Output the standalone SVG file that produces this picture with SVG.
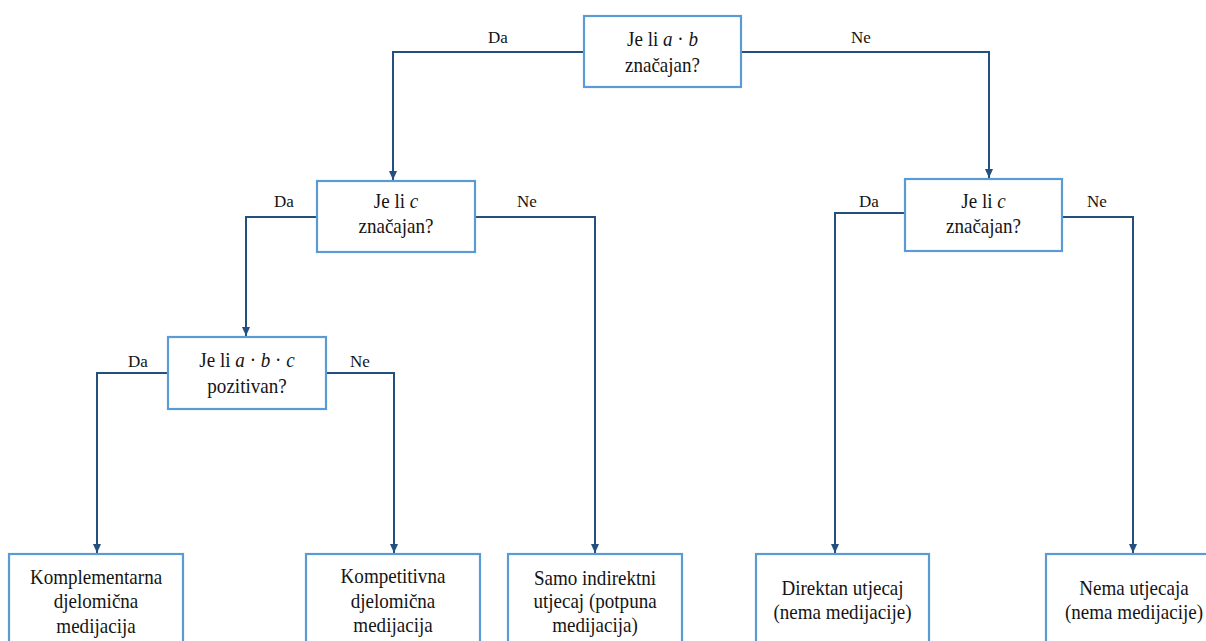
<svg xmlns="http://www.w3.org/2000/svg" width="1206" height="641" viewBox="0 0 1206 641">
  <style>
    .box { fill: #ffffff; stroke: #5b9bd5; stroke-width: 2.2; }
    .wire { fill: none; stroke: #23507f; stroke-width: 2; }
    text { font-family: 'Liberation Serif', 'DejaVu Serif', serif; fill: #141414; text-anchor: middle; }
    .t { font-size: 20.5px; }
    .lbl { font-size: 17px; }
    .i { font-style: italic; }
  </style>
  <defs>
    <marker id="arr" markerWidth="10" markerHeight="10" refX="9" refY="5" orient="auto" markerUnits="userSpaceOnUse">
      <path d="M0,1 L9,5 L0,9 Z" fill="#23507f"/>
    </marker>
  </defs>

  <!-- connectors and their yes/no labels -->
  <g id="connectors">
    <path class="wire" d="M584,52 H393 V180" marker-end="url(#arr)"/>
    <path class="wire" d="M741,52 H989 V178" marker-end="url(#arr)"/>
    <path class="wire" d="M317,217 H246 V336" marker-end="url(#arr)"/>
    <path class="wire" d="M475,217 H595 V553" marker-end="url(#arr)"/>
    <path class="wire" d="M168,373 H97 V553" marker-end="url(#arr)"/>
    <path class="wire" d="M326,373 H394 V553" marker-end="url(#arr)"/>
    <path class="wire" d="M905,213 H835 V553" marker-end="url(#arr)"/>
    <path class="wire" d="M1062,217 H1133 V553" marker-end="url(#arr)"/>
    <text class="lbl" x="498" y="43">Da</text>
    <text class="lbl" x="861" y="43">Ne</text>
    <text class="lbl" x="284" y="207">Da</text>
    <text class="lbl" x="527" y="207">Ne</text>
    <text class="lbl" x="138" y="367">Da</text>
    <text class="lbl" x="360" y="367">Ne</text>
    <text class="lbl" x="869" y="207">Da</text>
    <text class="lbl" x="1097" y="207">Ne</text>
  </g>

  <!-- node labels are set in a slightly narrowed serif: each text block is centred at x=0 of its group -->
  <g id="q-ab">
    <rect class="box" x="584" y="16" width="157" height="71"/>
    <g transform="translate(662.5,0) scale(0.93,1)">
      <text class="t" x="0" y="46">Je li <tspan class="i">a</tspan> · <tspan class="i">b</tspan></text>
      <text class="t" x="0" y="72">značajan?</text>
    </g>
  </g>

  <g id="q-c-left">
    <rect class="box" x="317" y="181" width="158" height="71"/>
    <g transform="translate(396,0) scale(0.93,1)">
      <text class="t" x="0" y="208">Je li <tspan class="i">c</tspan></text>
      <text class="t" x="0" y="233.5">značajan?</text>
    </g>
  </g>

  <g id="q-c-right">
    <rect class="box" x="905" y="179" width="157" height="72"/>
    <g transform="translate(983.5,0) scale(0.93,1)">
      <text class="t" x="0" y="208">Je li <tspan class="i">c</tspan></text>
      <text class="t" x="0" y="233.5">značajan?</text>
    </g>
  </g>

  <g id="q-abc">
    <rect class="box" x="168" y="337" width="158" height="72"/>
    <g transform="translate(247,0) scale(0.93,1)">
      <text class="t" x="0" y="367.5">Je li <tspan class="i">a</tspan> · <tspan class="i">b</tspan> · <tspan class="i">c</tspan></text>
      <text class="t" x="0" y="393.5">pozitivan?</text>
    </g>
  </g>

  <g id="r-komplementarna">
    <rect class="box" x="9" y="554" width="174" height="100"/>
    <g transform="translate(96,0) scale(0.93,1)">
      <text class="t" x="0" y="584">Komplementarna</text>
      <text class="t" x="0" y="608.5">djelomična</text>
      <text class="t" x="0" y="633">medijacija</text>
    </g>
  </g>

  <g id="r-kompetitivna">
    <rect class="box" x="306" y="554" width="174" height="100"/>
    <g transform="translate(393,0) scale(0.93,1)">
      <text class="t" x="0" y="583.5">Kompetitivna</text>
      <text class="t" x="0" y="608">djelomična</text>
      <text class="t" x="0" y="632.5">medijacija</text>
    </g>
  </g>

  <g id="r-indirektni">
    <rect class="box" x="508" y="554" width="174" height="100"/>
    <g transform="translate(595,0) scale(0.93,1)">
      <text class="t" x="0" y="585">Samo indirektni</text>
      <text class="t" x="0" y="608.5">utjecaj (potpuna</text>
      <text class="t" x="0" y="632.5">medijacija)</text>
    </g>
  </g>

  <g id="r-direktan">
    <rect class="box" x="756" y="554" width="173" height="100"/>
    <g transform="translate(842.5,0) scale(0.93,1)">
      <text class="t" x="0" y="595">Direktan utjecaj</text>
      <text class="t" x="0" y="619">(nema medijacije)</text>
    </g>
  </g>

  <g id="r-nema">
    <rect class="box" x="1046" y="554" width="174" height="100"/>
    <g transform="translate(1134,0) scale(0.93,1)">
      <text class="t" x="0" y="595">Nema utjecaja</text>
      <text class="t" x="0" y="619">(nema medijacije)</text>
    </g>
  </g>
</svg>
